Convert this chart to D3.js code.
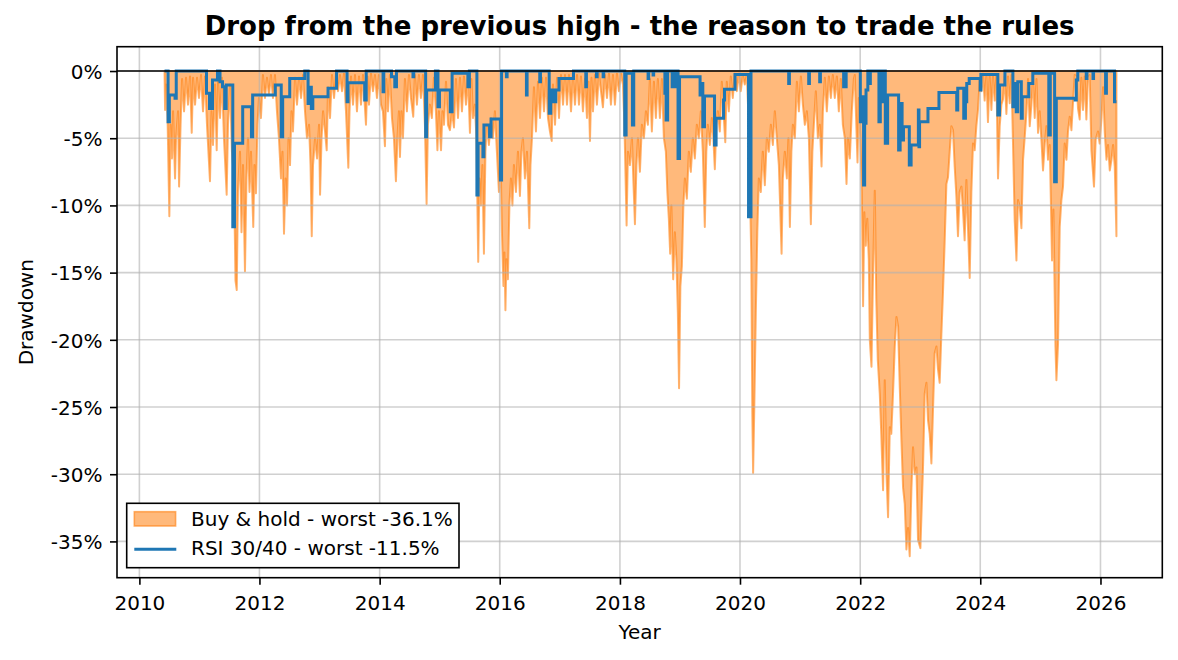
<!DOCTYPE html>
<html>
<head>
<meta charset="utf-8">
<script src="https://cdn.jsdelivr.net/npm/d3@7"></script>
<style>
  body { margin: 0; background: #fff; }
  text { font-family: "DejaVu Sans", sans-serif; }
</style>
</head>
<body>
<svg id="chart" width="1178" height="660"></svg>
<script>
// drawdown data, [decimal year, drawdown %]
const buyHold = [
  [2010.419, 0], [2010.428, -2.9], [2010.444, -1.0], [2010.469, -3.5], [2010.499, -10.8], [2010.519, -4], [2010.544, -6.5],
  [2010.561, -3], [2010.594, -8], [2010.611, -5], [2010.644, -3], [2010.661, -8.6], [2010.686, -4], [2010.711, -0.6],
  [2010.744, -3], [2010.777, -0.5], [2010.810, -2.5], [2010.844, -0.4], [2010.872, -4.6], [2010.894, -0.5], [2010.927, -2.5],
  [2010.960, -0.5], [2010.993, -2],
  [2011.027, -0.3], [2011.060, -3], [2011.093, -0.4], [2011.126, -4], [2011.176, -8.2], [2011.201, -3], [2011.226, -5.5],
  [2011.260, -1], [2011.288, -5.9], [2011.310, -0.8], [2011.343, -3.5], [2011.376, -0.5], [2011.409, -5], [2011.454, -9.2],
  [2011.476, -4], [2011.509, -1], [2011.542, -6], [2011.576, -8], [2011.601, -15.6], [2011.622, -16.3], [2011.642, -9],
  [2011.676, -6], [2011.701, -12], [2011.726, -7], [2011.759, -14.9], [2011.784, -8], [2011.809, -5], [2011.834, -9],
  [2011.859, -6], [2011.897, -11.6], [2011.917, -7], [2011.942, -9.1], [2011.967, -4], [2011.992, -2],
  [2012.025, -3.5], [2012.058, -0.3], [2012.092, -2], [2012.125, -0.5], [2012.158, -1.8], [2012.191, -0.3], [2012.225, -2],
  [2012.258, -0.3], [2012.291, -3], [2012.324, -5], [2012.358, -8], [2012.383, -6], [2012.408, -12.1], [2012.433, -8],
  [2012.458, -10], [2012.483, -5], [2012.508, -7], [2012.532, -3], [2012.557, -4.5], [2012.591, -0.5], [2012.624, -2.5],
  [2012.657, -0.5], [2012.691, -2], [2012.724, -0.3], [2012.757, -3], [2012.790, -5], [2012.824, -4], [2012.849, -7],
  [2012.869, -12.3], [2012.890, -7], [2012.924, -5], [2012.957, -6.5], [2012.990, -4],
  [2013.007, -9.2], [2013.032, -5], [2013.057, -3], [2013.090, -4.5], [2013.118, -5.9], [2013.140, -1.2], [2013.173, -3.5],
  [2013.206, -0.3], [2013.240, -2], [2013.273, -0.2], [2013.306, -1.5], [2013.339, -0.3], [2013.373, -1.5], [2013.406, -0.2],
  [2013.439, -3], [2013.478, -7.2], [2013.498, -3], [2013.523, -0.4], [2013.556, -2.5], [2013.589, -0.3], [2013.622, -3],
  [2013.656, -0.4], [2013.689, -2.5], [2013.722, -0.3], [2013.772, -4.0], [2013.797, -0.4], [2013.822, -2.5], [2013.855, -0.2],
  [2013.889, -1.5], [2013.922, -0.3], [2013.955, -2], [2013.988, -0.3],
  [2014.022, -2.5], [2014.055, -3], [2014.088, -5.6], [2014.113, -0.6], [2014.138, -3], [2014.171, -0.3], [2014.205, -3.5],
  [2014.238, -5], [2014.271, -8.2], [2014.296, -5], [2014.321, -3], [2014.338, -6.4], [2014.363, -3], [2014.388, -5],
  [2014.421, -0.6], [2014.454, -3], [2014.488, -0.3], [2014.521, -2], [2014.559, -3.4], [2014.587, -0.3], [2014.621, -2.5],
  [2014.654, -0.3], [2014.687, -2], [2014.721, -0.3], [2014.754, -4], [2014.782, -9.9], [2014.804, -4], [2014.837, -2.5],
  [2014.870, -3.5], [2014.904, -0.5], [2014.937, -3], [2014.962, -5.9], [2014.987, -3],
  [2015.022, -5.9], [2015.047, -3], [2015.072, -4], [2015.105, -0.8], [2015.138, -4], [2015.171, -4.4], [2015.205, -3],
  [2015.238, -4.2], [2015.271, -0.6], [2015.305, -3.5], [2015.338, -0.5], [2015.371, -3], [2015.404, -0.4], [2015.438, -2.5],
  [2015.471, -0.4], [2015.504, -4.6], [2015.529, -0.6], [2015.554, -3.5], [2015.587, -2.5], [2015.612, -5], [2015.642, -14.2],
  [2015.662, -8], [2015.687, -10], [2015.712, -7], [2015.737, -13.6], [2015.762, -6], [2015.787, -4], [2015.820, -5.5],
  [2015.854, -3.5], [2015.887, -5], [2015.920, -3], [2015.953, -6], [2015.987, -9],
  [2016.012, -6], [2016.037, -12], [2016.062, -16], [2016.078, -13.5], [2016.095, -17.8], [2016.111, -14], [2016.136, -15.5],
  [2016.161, -10], [2016.186, -8], [2016.211, -10], [2016.236, -7], [2016.270, -9], [2016.303, -6], [2016.336, -9.3],
  [2016.361, -6], [2016.386, -5], [2016.419, -8], [2016.453, -6], [2016.491, -11.7], [2016.511, -7], [2016.536, -5],
  [2016.569, -1.2], [2016.602, -4.5], [2016.636, -0.8], [2016.669, -3.5], [2016.702, -0.5], [2016.736, -3], [2016.769, -0.5],
  [2016.802, -3.5], [2016.835, -4.5], [2016.864, -5.2], [2016.885, -1.0], [2016.919, -4], [2016.952, -0.5], [2016.985, -3.5],
  [2017.018, -0.3], [2017.052, -2.5], [2017.085, -0.3], [2017.118, -2.5], [2017.151, -0.3], [2017.185, -3], [2017.218, -0.4],
  [2017.251, -2.5], [2017.285, -0.3], [2017.318, -2.5], [2017.351, -0.4], [2017.384, -3], [2017.418, -0.6], [2017.451, -3.5],
  [2017.476, -0.8], [2017.501, -5.2], [2017.526, -0.5], [2017.551, -3], [2017.584, -0.3], [2017.617, -2.5], [2017.651, -0.2],
  [2017.684, -1.5], [2017.717, -2.7], [2017.750, -0.3], [2017.784, -2], [2017.817, -0.2], [2017.850, -2.5], [2017.884, -0.3],
  [2017.917, -2.5], [2017.950, -0.2], [2017.983, -1.5],
  [2018.017, -0.2], [2018.050, -1], [2018.075, -4], [2018.111, -11.5], [2018.133, -6], [2018.166, -7], [2018.200, -5],
  [2018.225, -8.3], [2018.250, -11.4], [2018.275, -7], [2018.300, -5], [2018.333, -7.5], [2018.366, -4], [2018.399, -5],
  [2018.433, -3], [2018.466, -4], [2018.499, -0.6], [2018.532, -4.5], [2018.566, -0.8], [2018.599, -3.5], [2018.632, -0.6],
  [2018.666, -3.5], [2018.699, -0.6], [2018.732, -5], [2018.765, -6], [2018.790, -9], [2018.815, -11], [2018.837, -13.6],
  [2018.857, -10], [2018.887, -15.5], [2018.915, -12], [2018.940, -14], [2018.965, -18], [2018.985, -23.6],
  [2019.007, -16], [2019.032, -14.5], [2019.057, -10], [2019.082, -8], [2019.115, -9.5], [2019.148, -6], [2019.181, -7.5],
  [2019.215, -5], [2019.248, -6.5], [2019.281, -4], [2019.315, -5], [2019.348, -3], [2019.381, -6], [2019.414, -11.6],
  [2019.439, -6], [2019.464, -4], [2019.498, -5.5], [2019.531, -3.5], [2019.556, -5], [2019.581, -7.3], [2019.606, -4],
  [2019.631, -3], [2019.664, -4.5], [2019.697, -0.8], [2019.731, -3.5], [2019.755, -5.3], [2019.780, -0.8], [2019.814, -3],
  [2019.847, -0.4], [2019.880, -2], [2019.914, -0.2], [2019.947, -1.5], [2019.980, -0.2],
  [2020.013, -1.5], [2020.047, -0.3], [2020.080, -1], [2020.113, -0.3], [2020.138, -3], [2020.163, -8], [2020.188, -14],
  [2020.205, -25.5], [2020.218, -29.9], [2020.238, -25], [2020.263, -18], [2020.288, -12], [2020.313, -8], [2020.346, -9],
  [2020.379, -6], [2020.413, -8.5], [2020.446, -5], [2020.479, -6], [2020.513, -4], [2020.546, -5.5], [2020.579, -3],
  [2020.612, -5], [2020.646, -7], [2020.691, -13.6], [2020.712, -8], [2020.745, -6], [2020.779, -8], [2020.804, -5],
  [2020.829, -11.6], [2020.854, -6], [2020.879, -4], [2020.912, -5], [2020.945, -0.8], [2020.978, -3],
  [2021.012, -0.4], [2021.045, -2.5], [2021.078, -4], [2021.111, -3], [2021.145, -5], [2021.178, -11.4], [2021.203, -6],
  [2021.228, -4], [2021.261, -1.5], [2021.295, -5], [2021.328, -4], [2021.356, -7.1], [2021.378, -3], [2021.411, -0.5],
  [2021.444, -3], [2021.478, -0.4], [2021.511, -2], [2021.544, -0.3], [2021.577, -2], [2021.611, -0.4], [2021.644, -3],
  [2021.677, -0.6], [2021.711, -4], [2021.744, -5], [2021.772, -8.4], [2021.794, -5], [2021.827, -6.5], [2021.860, -3],
  [2021.894, -0.6], [2021.910, -0.3], [2021.935, -4], [2021.955, -6.8], [2021.977, -2],
  [2022.002, -5], [2022.027, -9], [2022.048, -17.5], [2022.068, -10.5], [2022.093, -13], [2022.118, -11], [2022.143, -14],
  [2022.160, -20], [2022.188, -22], [2022.210, -16], [2022.243, -8.9], [2022.268, -17], [2022.293, -21.5], [2022.326, -24],
  [2022.351, -27], [2022.381, -31.2], [2022.409, -23], [2022.438, -30], [2022.464, -33.2], [2022.493, -26.5], [2022.518, -27],
  [2022.547, -24], [2022.576, -20.5], [2022.604, -18.3], [2022.631, -19], [2022.659, -23.5], [2022.687, -27.5], [2022.714, -31],
  [2022.742, -32.2], [2022.770, -35.6], [2022.797, -34], [2022.825, -36.1], [2022.854, -31], [2022.880, -28], [2022.909, -30],
  [2022.937, -29.5], [2022.963, -34.9],
  [2023.003, -35.5], [2023.025, -32.4], [2023.047, -29.4], [2023.075, -24], [2023.103, -23.2], [2023.130, -26], [2023.158, -27],
  [2023.186, -29.2], [2023.213, -25.2], [2023.241, -21], [2023.270, -20.5], [2023.296, -22.2], [2023.324, -23.2], [2023.353, -19.5],
  [2023.379, -16.5], [2023.408, -12.6], [2023.436, -8.4], [2023.463, -7.9], [2023.491, -6], [2023.519, -4.1], [2023.546, -4.4],
  [2023.574, -7.1], [2023.602, -9.3], [2023.629, -12.3], [2023.657, -9], [2023.686, -8.6], [2023.712, -10.3], [2023.740, -12.6],
  [2023.769, -8.1], [2023.795, -11.6], [2023.824, -15.4], [2023.852, -9], [2023.879, -5.4], [2023.907, -5.9], [2023.935, -4.1],
  [2023.962, -2.9], [2023.990, -0.7],
  [2024.018, -1.5], [2024.045, -0.2], [2024.073, -2.2], [2024.102, -0.3], [2024.128, -3.8], [2024.156, -0.4], [2024.185, -2.9],
  [2024.211, -0.3], [2024.240, -2.2], [2024.268, -0.3], [2024.295, -8], [2024.323, -4.1], [2024.351, -2.5], [2024.378, -2.1],
  [2024.406, -0.4], [2024.434, -3.2], [2024.461, -0.4], [2024.489, -2.4], [2024.518, -0.3], [2024.544, -5.4], [2024.572, -11.1],
  [2024.601, -14.1], [2024.627, -9.6], [2024.656, -10.1], [2024.684, -11.7], [2024.711, -6.6], [2024.739, -4.9], [2024.767, -3.1],
  [2024.794, -0.6], [2024.822, -4.1], [2024.850, -2.5], [2024.877, -0.5], [2024.905, -3.5], [2024.934, -0.6], [2024.960, -4.6],
  [2024.988, -3],
  [2025.017, -5.2], [2025.043, -7.4], [2025.072, -5.4], [2025.100, -4.1], [2025.126, -6.6], [2025.155, -5.5], [2025.193, -14.1],
  [2025.216, -10.3], [2025.250, -20.5], [2025.266, -23], [2025.293, -20.3], [2025.321, -11.6], [2025.349, -9.6], [2025.376, -8.6],
  [2025.404, -5.4], [2025.433, -6.6], [2025.459, -4.5], [2025.488, -3.4], [2025.516, -4.4], [2025.542, -2.4], [2025.571, -0.3],
  [2025.599, -0.4], [2025.626, -2.8], [2025.654, -3.6], [2025.682, -0.5], [2025.709, -2.9], [2025.737, -0.4], [2025.765, -3.6],
  [2025.792, -0.5], [2025.820, -0.3], [2025.849, -5.9], [2025.892, -8.6], [2025.920, -5.1], [2025.958, -4.5], [2025.987, -5.4],
  [2026.017, -3.5], [2026.043, -1.2], [2026.072, -4.6], [2026.100, -6.6], [2026.126, -5.5], [2026.155, -7.4], [2026.183, -6.6],
  [2026.210, -5.5], [2026.238, -7.1], [2026.266, -12.3]
]

// RSI strategy drawdown, step points: value holds until the next point
const rsiStrategy = [
  [2010.419, 0], [2010.478, -3.77], [2010.499, -1.79], [2010.594, -2.03], [2010.614, 0],
  [2011.118, -1.66], [2011.168, -2.78], [2011.218, -0.67], [2011.301, 0], [2011.343, -0.8], [2011.385, -1.17],
  [2011.421, -2.78], [2011.446, -1.04], [2011.556, -11.58], [2011.584, -5.38], [2011.721, -2.65], [2011.867, -4.89],
  [2011.887, -1.79],
  [2012.263, -1.04], [2012.362, -4.89], [2012.386, -1.91], [2012.503, -0.55], [2012.753, 0], [2012.808, -2.41],
  [2012.832, -1.2], [2012.862, -2.78], [2012.887, -1.91],
  [2013.140, -1.29], [2013.282, 0], [2013.457, -2.28], [2013.473, -0.87], [2013.751, -2.16], [2013.776, 0],
  [2014.056, -1.54], [2014.069, 0], [2014.197, -0.42], [2014.252, -1.17], [2014.280, 0], [2014.555, -0.42], [2014.568, 0],
  [2014.766, -4.89], [2014.783, -1.41], [2014.929, 0], [2014.971, -2.65], [2014.996, -1.41],
  [2015.176, -3.03], [2015.207, -0.17], [2015.470, -1.17], [2015.495, 0], [2015.620, -9.23], [2015.640, -5.38],
  [2015.720, -6.37], [2015.737, -4.02], [2015.831, -4.89], [2015.856, -3.57],
  [2016.011, -8.11], [2016.031, 0], [2016.111, -0.42], [2016.123, 0], [2016.444, -1.79], [2016.455, 0], [2016.665, -0.79],
  [2016.677, 0], [2016.822, -3.15], [2016.848, -1.41], [2016.898, -2.28], [2016.931, -1.41], [2016.985, -0.55],
  [2017.226, 0], [2017.431, -1.17], [2017.442, 0], [2017.609, -0.42], [2017.620, 0], [2017.720, -0.42], [2017.730, 0],
  [2018.080, -4.76], [2018.103, -0.17], [2018.208, -4.02], [2018.230, 0], [2018.469, -0.55], [2018.479, 0], [2018.552, -0.3],
  [2018.562, 0], [2018.749, -1.66], [2018.769, -3.65], [2018.795, 0], [2018.870, -1.17], [2018.920, 0], [2018.968, -6.5],
  [2018.993, -0.42],
  [2019.335, -1.79], [2019.356, -0.92], [2019.381, -4.14], [2019.409, -1.86], [2019.576, -5.51], [2019.602, -3.52],
  [2019.726, -2.16], [2019.742, -1.36], [2019.917, -0.25],
  [2020.142, -10.84], [2020.183, 0], [2020.809, -0.92], [2020.821, 0],
  [2021.142, -0.92], [2021.154, 0], [2021.325, -0.79], [2021.337, 0], [2021.724, -1.17], [2021.766, 0],
  [2022.002, -3.77], [2022.019, -1.91], [2022.056, -8.48], [2022.074, -3.89], [2022.097, -1.41], [2022.127, 0],
  [2022.157, -0.92], [2022.169, 0], [2022.312, -3.77], [2022.335, 0], [2022.352, -2.28], [2022.377, 0], [2022.418, -5.38],
  [2022.457, -1.79], [2022.640, -5.88], [2022.665, -2.41], [2022.698, -5.13], [2022.721, -4.14], [2022.818, -6.99],
  [2022.848, -5.51], [2022.969, -2.9], [2022.979, -5.63], [2022.989, -3.77],
  [2023.129, -2.78], [2023.312, -1.59], [2023.608, -2.9], [2023.625, -1.29], [2023.725, -3.52], [2023.753, -2.28],
  [2023.775, -0.92], [2023.816, -0.55], [2023.999, -1.41],
  [2024.011, -0.25], [2024.292, -3.27], [2024.319, -1.04], [2024.410, 0], [2024.542, -2.65], [2024.562, -0.92],
  [2024.598, -3.03], [2024.623, -0.79], [2024.682, -3.52], [2024.698, -1.91], [2024.806, -0.92], [2024.873, -0.17],
  [2025.139, -4.76], [2025.164, -0.17], [2025.236, -8.23], [2025.264, -2.03], [2025.577, -2.16], [2025.597, -0.67],
  [2025.622, 0], [2025.763, -0.55], [2025.775, 0], [2025.875, -0.55], [2025.885, 0],
  [2026.085, -1.66], [2026.099, 0], [2026.234, -2.28], [2026.266, -2.28]
]

const xTickYears = [2010, 2012, 2014, 2016, 2018, 2020, 2022, 2024, 2026]
const yTickValues = [0, -5, -10, -15, -20, -25, -30, -35]
const legendLabels = ['Buy & hold - worst -36.1%', 'RSI 30/40 - worst -11.5%']
const chartTitle = 'Drop from the previous high - the reason to trade the rules'

// decimal year -> Date
function toDate(yr) {
  const y0 = Math.floor(yr)
  const start = Date.UTC(y0, 0, 1)
  const end = Date.UTC(y0 + 1, 0, 1)
  return new Date(start + (yr - y0) * (end - start))
}

const width = 1178
const height = 660
const margin = {top: 46.7, right: 15.7, bottom: 82.3, left: 117}
const orange = '#ff7f0e'
const blue = '#1f77b4'
const fontSize = 20

const svg = d3.select('#chart')

const x = d3.scaleUtc()
  .domain([toDate(2009.627), toDate(2027.03)])
  .range([margin.left, width - margin.right])
const y = d3.scaleLinear()
  .domain([-37.7, 1.81])
  .range([height - margin.bottom, margin.top])

// buy & hold area
const area = d3.area()
  .x(d => x(toDate(d[0])))
  .y0(y(0))
  .y1(d => y(d[1]))
svg.append('path')
  .datum(buyHold)
  .attr('d', area)
  .attr('fill', orange).attr('fill-opacity', 0.55)
  .attr('stroke', orange).attr('stroke-opacity', 0.6)
  .attr('stroke-width', 2).attr('stroke-linejoin', 'round')

// grid sits above the fill, below the line (matplotlib default order)
let grid = svg.append('g').attr('class', 'grid')
grid.selectAll('.vgrid')
  .data(xTickYears)
  .enter().append('line')
  .attr('x1', d => x(toDate(d))).attr('x2', d => x(toDate(d)))
  .attr('y1', margin.top).attr('y2', height - margin.bottom)
  .attr('stroke', '#b0b0b0').attr('stroke-opacity', 0.6).attr('stroke-width', 1.6)
grid.selectAll('.hgrid')
  .data(yTickValues)
  .enter().append('line')
  .attr('x1', margin.left).attr('x2', width - margin.right)
  .attr('y1', d => y(d)).attr('y2', d => y(d))
  .attr('stroke', '#b0b0b0').attr('stroke-opacity', 0.6).attr('stroke-width', 1.6)

// rsi line
const line = d3.line()
  .curve(d3.curveStepAfter)
  .x(d => x(toDate(d[0])))
  .y(d => y(d[1]))
svg.append('path')
  .datum(rsiStrategy)
  .attr('d', line)
  .attr('fill', 'none')
  .attr('stroke', blue).attr('stroke-width', 3)

// zero line
svg.append('line')
  .attr('x1', margin.left).attr('x2', width - margin.right)
  .attr('y1', y(0)).attr('y2', y(0))
  .attr('stroke', '#000').attr('stroke-width', 1.6)

// axes
const xAxis = d3.axisBottom(x)
  .tickValues(xTickYears.map(toDate))
  .tickFormat(d3.utcFormat('%Y'))
  .tickSize(7)
const yAxis = d3.axisLeft(y)
  .tickValues(yTickValues)
  .tickFormat(d => d + '%')
  .tickSize(7)

let gx = svg.append('g')
  .attr('transform', 'translate(0,' + (height - margin.bottom) + ')')
  .call(xAxis)
gx.select('.domain').remove()
gx.selectAll('.tick line').attr('stroke', '#000').attr('stroke-width', 1.6)
gx.selectAll('.tick text')
  .attr('y', 32).attr('dy', null)
  .attr('fill', '#000')
  .style('font-size', fontSize + 'px')
  .style('font-family', 'DejaVu Sans')

let gy = svg.append('g')
  .attr('transform', 'translate(' + margin.left + ',0)')
  .call(yAxis)
gy.select('.domain').remove()
gy.selectAll('.tick line').attr('stroke', '#000').attr('stroke-width', 1.6)
gy.selectAll('.tick text')
  .attr('x', -14.6).attr('dy', '0.36em')
  .attr('fill', '#000')
  .style('font-size', fontSize + 'px')
  .style('font-family', 'DejaVu Sans')

// frame
svg.append('rect')
  .attr('x', margin.left).attr('y', margin.top)
  .attr('width', width - margin.left - margin.right)
  .attr('height', height - margin.top - margin.bottom)
  .attr('fill', 'none').attr('stroke', '#000').attr('stroke-width', 1.6)

// labels
svg.append('text')
  .text(chartTitle)
  .attr('x', (margin.left + width - margin.right) / 2).attr('y', 35)
  .attr('text-anchor', 'middle')
  .style('font-size', '26px').style('font-weight', 'bold')
svg.append('text')
  .text('Year')
  .attr('x', (margin.left + width - margin.right) / 2).attr('y', 639)
  .attr('text-anchor', 'middle')
  .style('font-size', fontSize + 'px')
svg.append('text')
  .text('Drawdown')
  .attr('transform', 'translate(33,' + ((margin.top + height - margin.bottom) / 2) + ') rotate(-90)')
  .attr('text-anchor', 'middle')
  .style('font-size', fontSize + 'px')

// legend
let legend = svg.append('g').attr('class', 'legend')
legend.append('rect')
  .attr('x', 126.7).attr('y', 503.3)
  .attr('width', 332.3).attr('height', 64.4)
  .attr('fill', '#fff').attr('stroke', '#000').attr('stroke-width', 1.6)
legend.append('rect')
  .attr('x', 134.3).attr('y', 511.7)
  .attr('width', 41.3).attr('height', 14.3)
  .attr('fill', orange).attr('fill-opacity', 0.55)
  .attr('stroke', orange).attr('stroke-opacity', 0.6).attr('stroke-width', 1.6)
legend.append('line')
  .attr('x1', 134.3).attr('x2', 176.3)
  .attr('y1', 549.3).attr('y2', 549.3)
  .attr('stroke', blue).attr('stroke-width', 3)
legend.selectAll('.legendText')
  .data(legendLabels)
  .enter().append('text')
  .attr('class', 'legendText')
  .attr('x', 191)
  .attr('y', (d, i) => 526 + i * 29)
  .text(d => d)
  .style('font-size', fontSize + 'px')
</script>
</body>
</html>
